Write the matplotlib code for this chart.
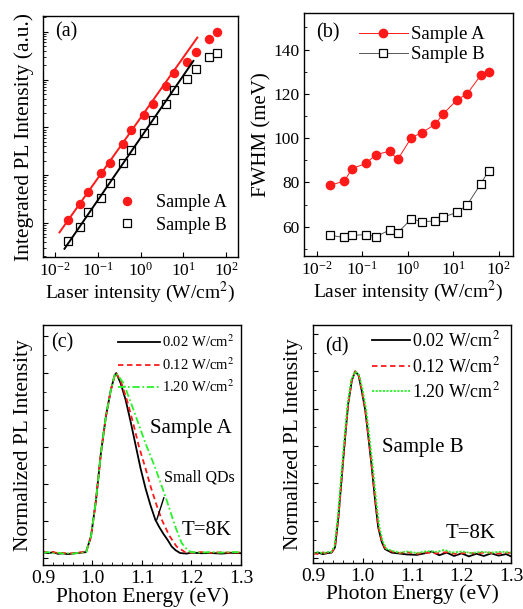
import matplotlib
matplotlib.use("Agg")
import matplotlib.pyplot as plt
import matplotlib.ticker as mticker
import numpy as np

plt.rcParams["font.family"] = ["Liberation Serif", "DejaVu Serif"]
plt.rcParams["mathtext.fontset"] = "stix"

# Laser intensities (W/cm2).
power = [0.02, 0.04, 0.06, 0.12, 0.2, 0.4, 0.6, 1.2, 2, 4, 6, 12, 20, 40, 60]

# (a) integrated PL intensity, log10 of a.u.
ipl_a_log = [0.07, 0.39, 0.65, 1.04, 1.26, 1.65, 1.94, 2.27, 2.50, 2.87, 3.13, 3.37, 3.58, 3.85, 3.99]
ipl_b_log = [-0.37, -0.09, 0.23, 0.53, 0.83, 1.25, 1.52, 1.89, 2.15, 2.50, 2.78, 3.02, 3.23, 3.47, 3.56]

# Power-law fits: log10(I) = intercept + slope * log10(P), over a range of P.
fit_a = {"slope": 1.27, "intercept": 2.20, "range": [0.013, 21]}
fit_b = {"slope": 1.31, "intercept": 1.78, "range": [0.017, 17]}

# (b) FWHM (meV).
fwhm_a = [78.8, 80.6, 86.3, 88.6, 92.6, 94.1, 90.4, 100.3, 102.4, 106.3, 111.0, 117.3, 120.0, 128.4, 129.9]
fwhm_b = [56.1, 55.2, 56.1, 56.5, 55.5, 58.6, 57.3, 63.6, 62.3, 62.6, 64.4, 66.5, 69.8, 79.4, 85.4]

# (c) normalized PL spectra, sample A.
ca_e_black = [0.90, 0.91, 0.92, 0.93, 0.94, 0.95, 0.96, 0.97, 0.98, 0.987, 0.997, 1.007, 1.017,
              1.027, 1.037, 1.045, 1.048, 1.057, 1.067, 1.077, 1.087, 1.097, 1.107, 1.117,
              1.127, 1.135, 1.143, 1.152, 1.160, 1.168, 1.177, 1.19, 1.20, 1.22, 1.24, 1.26, 1.28, 1.30]
ca_i_black = [0.030, 0.024, 0.029, 0.021, 0.023, 0.019, 0.022, 0.025, 0.028, 0.030, 0.115, 0.31, 0.566,
              0.764, 0.908, 0.99, 1.0, 0.944, 0.854, 0.737, 0.611, 0.485, 0.377, 0.285,
              0.205, 0.165, 0.13, 0.095, 0.06, 0.04, 0.025, 0.022, 0.027, 0.024, 0.025, 0.022, 0.026, 0.024]
ca_e_red = [0.90, 0.91, 0.92, 0.93, 0.94, 0.95, 0.96, 0.97, 0.98, 0.987, 0.997, 1.007, 1.017,
            1.027, 1.037, 1.045, 1.048, 1.058, 1.070, 1.082, 1.094, 1.107, 1.118, 1.130,
            1.140, 1.155, 1.170, 1.187, 1.20, 1.22, 1.24, 1.26, 1.28, 1.30]
ca_i_red = [0.032, 0.028, 0.031, 0.024, 0.026, 0.022, 0.024, 0.027, 0.030, 0.031, 0.115, 0.31, 0.566,
            0.764, 0.908, 0.99, 1.0, 0.95, 0.85, 0.73, 0.60, 0.485, 0.38, 0.28,
            0.205, 0.12, 0.06, 0.03, 0.028, 0.030, 0.026, 0.029, 0.027, 0.028]
ca_e_green = [0.90, 0.91, 0.92, 0.93, 0.94, 0.95, 0.96, 0.97, 0.98, 0.987, 0.997, 1.007, 1.017,
              1.027, 1.037, 1.045, 1.048, 1.063, 1.083, 1.107, 1.127, 1.150, 1.167, 1.180,
              1.192, 1.20, 1.22, 1.24, 1.26, 1.28, 1.30]
ca_i_green = [0.026, 0.030, 0.024, 0.027, 0.022, 0.024, 0.021, 0.026, 0.027, 0.030, 0.115, 0.31, 0.566,
              0.764, 0.908, 0.99, 1.0, 0.944, 0.80, 0.62, 0.485, 0.31, 0.17, 0.08,
              0.04, 0.03, 0.028, 0.030, 0.027, 0.031, 0.029]

# (d) normalized PL spectra, sample B.
cb_e_black = [0.90, 0.91, 0.92, 0.93, 0.9376, 0.9444, 0.9512, 0.9580, 0.9648, 0.9711, 0.9784, 0.9852,
              0.9920, 0.9983, 1.0056, 1.0119, 1.0187, 1.0255, 1.0317, 1.0391, 1.0453, 1.0589, 1.075, 1.09,
              1.11, 1.125, 1.14, 1.155, 1.17, 1.185, 1.20, 1.215, 1.23, 1.245, 1.26, 1.275, 1.29, 1.30]
cb_i_black = [0.024, 0.030, 0.022, 0.028, 0.030, 0.058, 0.219, 0.433, 0.648, 0.827, 0.952, 1.0,
              0.979, 0.898, 0.791, 0.648, 0.487, 0.308, 0.165, 0.085, 0.049, 0.030, 0.025, 0.020,
              0.018, 0.026, 0.036, 0.016, 0.030, 0.012, 0.026, 0.010, 0.024, 0.012, 0.026, 0.014, 0.022, 0.010]
cb_e_red = [0.90, 0.91, 0.92, 0.93, 0.9376, 0.9444, 0.9512, 0.9580, 0.9648, 0.9711, 0.9784, 0.9852,
            0.9920, 0.9983, 1.0056, 1.0119, 1.0187, 1.0255, 1.0317, 1.0391, 1.0453, 1.0589, 1.075, 1.09,
            1.11, 1.13, 1.15, 1.17, 1.19, 1.21, 1.23, 1.25, 1.27, 1.29, 1.30]
cb_i_red = [0.028, 0.022, 0.031, 0.025, 0.032, 0.060, 0.215, 0.43, 0.645, 0.825, 0.955, 1.0,
            0.982, 0.902, 0.795, 0.652, 0.492, 0.315, 0.172, 0.092, 0.055, 0.036, 0.028, 0.032,
            0.024, 0.030, 0.026, 0.033, 0.022, 0.030, 0.025, 0.032, 0.024, 0.030, 0.028]
cb_e_green = [0.90, 0.91, 0.92, 0.93, 0.9366, 0.9434, 0.9502, 0.9570, 0.9638, 0.9700, 0.9774, 0.9852,
              0.9930, 1.0004, 1.0077, 1.0140, 1.0208, 1.0276, 1.0338, 1.0411, 1.0485, 1.0621, 1.075, 1.09,
              1.11, 1.13, 1.15, 1.165, 1.18, 1.20, 1.22, 1.24, 1.26, 1.28, 1.30]
cb_i_green = [0.026, 0.033, 0.027, 0.034, 0.032, 0.065, 0.225, 0.44, 0.655, 0.83, 0.955, 1.0,
              0.98, 0.90, 0.79, 0.65, 0.49, 0.31, 0.17, 0.09, 0.05, 0.038, 0.030, 0.036,
              0.028, 0.038, 0.034, 0.045, 0.030, 0.036, 0.028, 0.034, 0.030, 0.035, 0.030]

spectra_labels = ["0.02 W/cm$^2$", "0.12 W/cm$^2$", "1.20 W/cm$^2$"]

RED = "#ff1a1a"
GREEN = "#2af22a"


def style_axis(ax):
    ax.tick_params(which="both", direction="in", top=False, right=False, labelsize=12.5)
    ax.tick_params(which="major", length=3.5, width=0.8)
    ax.tick_params(which="minor", length=2, width=0.6)
    for s in ax.spines.values():
        s.set_linewidth(1.0)


fig = plt.figure(figsize=(5.23, 6.09), dpi=100)

# Panel (a)
ax = fig.add_axes([0.0822, 0.578, 0.373, 0.3957])
p = np.array(power)
ax.plot(p, 10 ** np.array(ipl_a_log), "o", color=RED, ms=5.8, label="Sample A")
ax.plot(p, 10 ** np.array(ipl_b_log), "s", color="black", mfc="white", mew=0.9, ms=5.2, label="Sample B")
for fit, c in [(fit_a, RED), (fit_b, "black")]:
    fx = np.array(fit["range"])
    ax.plot(fx, 10 ** (fit["intercept"] + fit["slope"] * np.log10(fx)), "-", color=c, lw=1.4)
ax.set_xscale("log")
ax.set_yscale("log")
ax.set_xlim(10 ** -2.27, 10 ** 2.27)
ax.set_ylim(10 ** -0.71, 10 ** 4.33)
ax.xaxis.set_major_locator(mticker.LogLocator(base=10, numticks=10))
ax.yaxis.set_major_locator(mticker.LogLocator(base=10, numticks=10))
ax.yaxis.set_minor_locator(mticker.LogLocator(base=10, subs=np.arange(2, 10), numticks=20))
ax.yaxis.set_major_formatter(mticker.NullFormatter())
ax.yaxis.set_minor_formatter(mticker.NullFormatter())
style_axis(ax)
ax.set_xlabel("Laser intensity (W/cm$^2$)", fontsize=14, labelpad=0)
ax.set_ylabel("Integrated PL Intensity (a.u.)", fontsize=15.5, labelpad=3)
ax.text(0.06, 0.975, "(a)", transform=ax.transAxes, fontsize=14.5, va="top")
ax.legend(loc="lower right", bbox_to_anchor=(0.99, 0.06), frameon=False, fontsize=13,
          handlelength=0.8, handletextpad=1.2, labelspacing=0.3, borderpad=0)

# Panel (b)
ax = fig.add_axes([0.5813, 0.5796, 0.3996, 0.399])
ax.plot(p, fwhm_a, "-o", color=RED, lw=0.7, ms=6, label="Sample A")
ax.plot(p, fwhm_b, "-s", color="#555555", mec="black", mfc="white", mew=0.9, lw=0.7, ms=5.5,
        label="Sample B")
ax.set_xscale("log")
ax.set_xlim(10 ** -2.28, 10 ** 2.31)
ax.set_ylim(46.8, 156.5)
ax.xaxis.set_major_locator(mticker.LogLocator(base=10, numticks=10))
ax.yaxis.set_minor_locator(mticker.MultipleLocator(10))
ax.set_yticks([60, 80, 100, 120, 140])
style_axis(ax)
ax.set_xlabel("Laser intensity (W/cm$^2$)", fontsize=14, labelpad=0)
ax.set_ylabel("FWHM (meV)", fontsize=15, labelpad=1)
ax.text(0.06, 0.96, "(b)", transform=ax.transAxes, fontsize=14.5, va="top")
ax.legend(loc="upper left", bbox_to_anchor=(0.2, 1.0), frameon=False, fontsize=13.5,
          handlelength=2.6, handletextpad=0.2, labelspacing=0.15, borderpad=0.2)


def spectra(ax, curves, legend_size, legend_anchor, green_ls, handlelength, spacing):
    styles = [("-", "black"), ((0, (3, 2)), RED), (green_ls, GREEN)]
    for (e, i), (ls, c), lab in zip(curves, styles, spectra_labels):
        ax.plot(e, i, linestyle=ls, color=c, lw=1.3, label=lab)
    ax.set_xlim(0.9, 1.3)
    ax.xaxis.set_major_locator(mticker.MultipleLocator(0.1))
    ax.xaxis.set_minor_locator(mticker.MultipleLocator(0.02))
    ax.xaxis.set_major_formatter(mticker.FormatStrFormatter("%.1f"))
    ax.yaxis.set_major_locator(mticker.MultipleLocator(0.2))
    ax.yaxis.set_minor_locator(mticker.MultipleLocator(0.1))
    ax.yaxis.set_major_formatter(mticker.NullFormatter())
    style_axis(ax)
    ax.tick_params(axis="x", labelsize=14)
    ax.set_xlabel("Photon Energy (eV)", fontsize=15.5, labelpad=0)
    ax.set_ylabel("Normalized PL Intensity", fontsize=15.5, labelpad=4)
    ax.legend(loc="upper right", bbox_to_anchor=legend_anchor, frameon=False, fontsize=legend_size,
              handlelength=handlelength, handletextpad=0.1, labelspacing=spacing, borderpad=0)


# Panel (c)
ax = fig.add_axes([0.0822, 0.0722, 0.3786, 0.394])
spectra(ax, [(ca_e_black, ca_i_black), (ca_e_red, ca_i_red), (ca_e_green, ca_i_green)],
        10.5, (1.0, 0.995), (0, (4, 1.5, 1, 1.5)), 2.9, 0.4)
ax.set_ylim(-0.04, 1.26)
ax.text(0.04, 0.965, "(c)", transform=ax.transAxes, fontsize=14.5, va="top")
ax.text(0.955, 0.57, "Sample A", transform=ax.transAxes, fontsize=15, ha="right", va="center")
ax.text(0.97, 0.365, "Small QDs", transform=ax.transAxes, fontsize=11.5, ha="right", va="center")
ax.annotate("", xy=(1.128, 0.19), xytext=(1.146, 0.34),
            arrowprops=dict(arrowstyle="-", color="black", lw=1.0))
ax.text(0.955, 0.145, "T=8K", transform=ax.transAxes, fontsize=15, ha="right", va="center")

# Panel (d)
ax = fig.add_axes([0.5985, 0.0760, 0.3786, 0.390])
spectra(ax, [(cb_e_black, cb_i_black), (cb_e_red, cb_i_red), (cb_e_green, cb_i_green)],
        13, (0.99, 1.015), (0, (1.2, 0.8)), 2.1, 0.3)
ax.set_ylim(-0.024, 1.247)
ax.text(0.06, 0.95, "(d)", transform=ax.transAxes, fontsize=14.5, va="top")
ax.text(0.35, 0.485, "Sample B", transform=ax.transAxes, fontsize=15, ha="left", va="center")
ax.text(0.92, 0.122, "T=8K", transform=ax.transAxes, fontsize=15, ha="right", va="center")

fig.savefig("out.png", dpi=100)
